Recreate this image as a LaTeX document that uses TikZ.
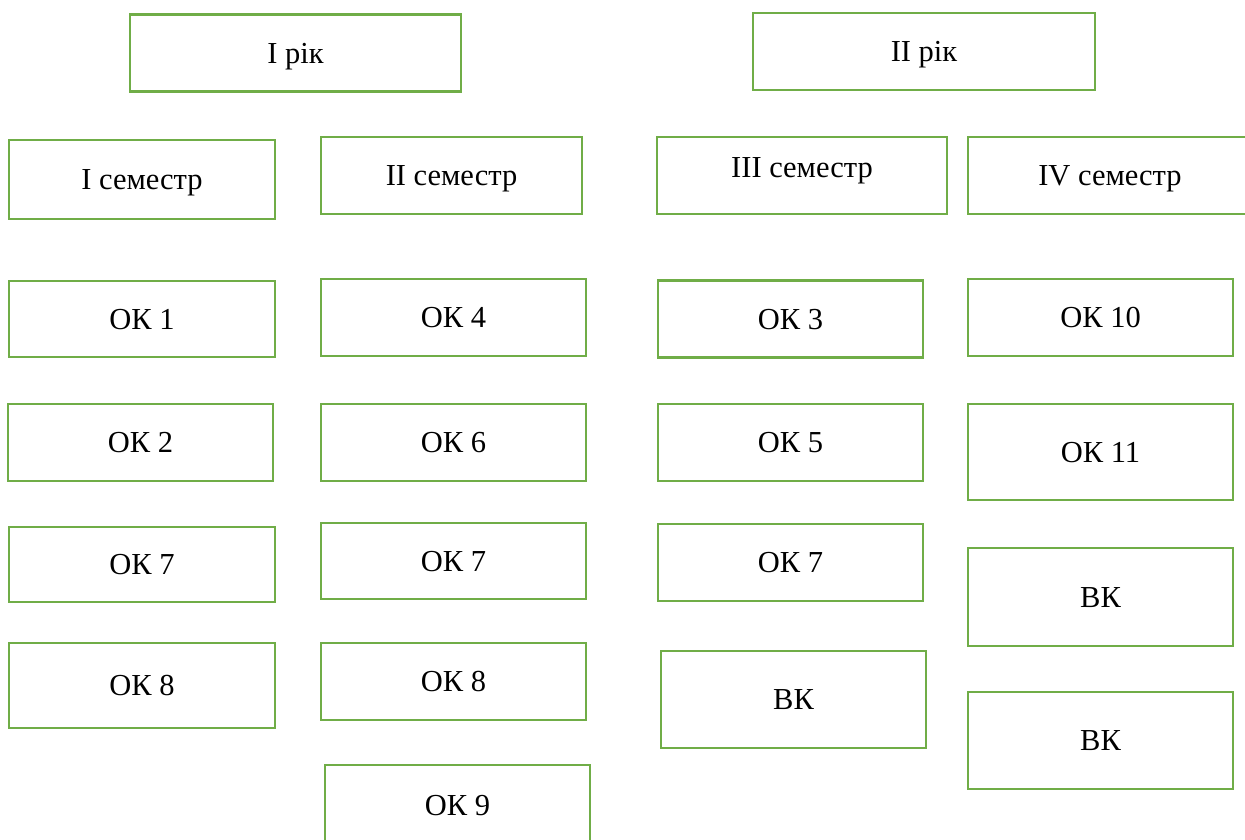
\documentclass[tikz,border=0pt]{standalone}
\usepackage{fontspec}
\setmainfont{Liberation Serif}
\usepackage{xcolor}
\usetikzlibrary{positioning}

\definecolor{boxgreen}{HTML}{70AD47}

\begin{document}
\begin{tikzpicture}[
    x=1pt, y=-1pt,
    font=\fontsize{30.5}{36}\selectfont, % Times-like text, as in the scheme
    % --- STYLES ---
    base_box/.style={
        draw=boxgreen,
        line width=2.8pt,
        inner sep=0pt,
        outer sep=0pt,
        text height=20pt, % caps centred in the box
        text depth=0pt
    },
    year_box/.style={base_box, minimum height=77pt},
    sem_box/.style={base_box, minimum height=77pt},
    course_box/.style={base_box, minimum width=265pt, minimum height=77pt},
    tall_box/.style={course_box, minimum height=97pt}
]

% --- page frame (boxes at the right and bottom edge are cut off) ---
\useasboundingbox (0,0) rectangle (1245,839);
\clip (0,0) rectangle (1245,839);

% --- YEARS ---
\node[year_box, minimum width=331pt] (Y1) at (295.5,53) {I рік};
\node[year_box, minimum width=342pt] (Y2) at (924,51.5) {II рік};

% --- SEMESTERS ---
\node[sem_box, minimum width=266pt, minimum height=79pt] (S1) at (142,179.5) {I семестр};
\node[sem_box, minimum width=261pt] (S2) at (451.5,175.5) {II семестр};
\node[sem_box, minimum width=290pt, text depth=17pt] (S3) at (802,175.5) {III семестр};
\node[sem_box, minimum width=284pt] (S4) at (1110,175.5) {IV семестр};

% --- Column 1: I семестр ---
\node[course_box, minimum width=266pt, minimum height=76pt] (A1) at (142,319) {ОК 1};
\node[course_box] (A2) at (140.5,442.5) {ОК 2};
\node[course_box, minimum width=266pt, minimum height=75pt] (A3) at (142,564.5) {ОК 7};
\node[course_box, minimum width=266pt, minimum height=85pt] (A4) at (142,685.5) {ОК 8};

% --- Column 2: II семестр ---
\node[course_box] (B1) at (453.5,317.5) {ОК 4};
\node[course_box] (B2) at (453.5,442.5) {ОК 6};
\node[course_box, minimum height=76pt] (B3) at (453.5,561) {ОК 7};
\node[course_box] (B4) at (453.5,681.5) {ОК 8};
\node[course_box, minimum height=80pt] (B5) at (457.5,805) {ОК 9};

% --- Column 3: III семестр ---
\node[course_box] (C1) at (790.5,319) {ОК 3};
\node[course_box] (C2) at (790.5,442.5) {ОК 5};
\node[course_box] (C3) at (790.5,562.5) {ОК 7};
\node[tall_box] (C4) at (793.5,699.5) {ВК};

% --- Column 4: IV семестр ---
\node[course_box] (D1) at (1100.5,317.5) {ОК 10};
\node[tall_box, minimum height=96pt] (D2) at (1100.5,452) {ОК 11};
\node[tall_box, minimum height=98pt] (D3) at (1100.5,597) {ВК};
\node[tall_box] (D4) at (1100.5,740.5) {ВК};

\end{tikzpicture}
\end{document}
